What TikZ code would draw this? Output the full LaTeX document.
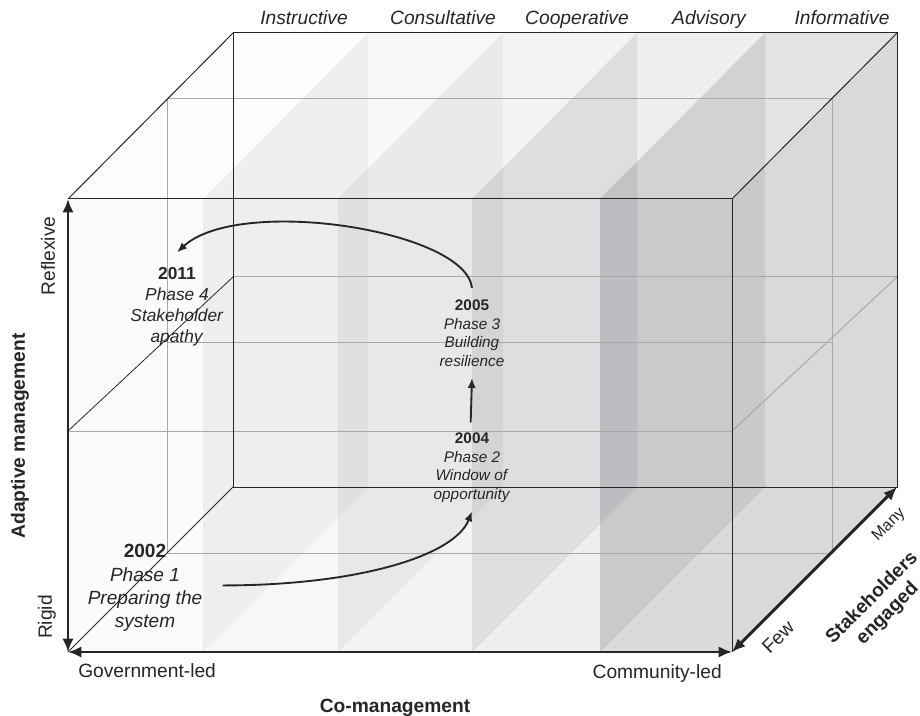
\documentclass[tikz,border=0pt]{standalone}
\usepackage{fontspec}
\setmainfont{Liberation Sans}
\usetikzlibrary{arrows.meta}
\definecolor{slab}{RGB}{25,28,38}
\definecolor{edgegray}{HTML}{262626}
\definecolor{gridgray}{HTML}{A8A8A8}
\tikzset{
  cubeline/.style={draw=edgegray, line width=0.75pt},
  gridline/.style={draw=gridgray, line width=0.75pt},
  axisline/.style={draw=edgegray, line width=2.2pt, {Latex[length=10pt,width=8.5pt]}-{Latex[length=10pt,width=8.5pt]}},
  flowline/.style={draw=edgegray, line width=1.4pt, -{Latex[length=7.5pt,width=6pt]}},
  coltitle/.style={anchor=base, inner sep=0pt, font=\fontsize{14.4}{17}\selectfont\itshape, text=edgegray},
  axislabel/.style={inner sep=0pt, font=\fontsize{14.4}{17}\selectfont, text=edgegray},
  axistitle/.style={inner sep=0pt, font=\fontsize{14.4}{17}\selectfont\bfseries, text=edgegray},
  phase/.style={anchor=north, inner sep=0pt, align=center, text=edgegray},
}
\begin{document}
\begin{tikzpicture}[x=0.75pt,y=0.75pt,yscale=-1,xscale=1]
	\useasboundingbox (0,0) rectangle (920,716);

	% Shaded columns: front, top and side faces
	\foreach \xa/\xb/\opf/\opt/\ops in {68/203/0.02/0.012/0.04, 203/338/0.035/0.03/0.05, 338/472/0.055/0.047/0.08, 472/600/0.07/0.07/0.085, 600/732/0.155/0.125/0.17}{
		\fill[slab, fill opacity=\opf] (\xa,199) rectangle (\xb,652);
		\fill[slab, fill opacity=\opt] (\xa,199) -- (\xb,199) -- ++(165,-166) -- ++(\xa-\xb,0) -- cycle;
		\fill[slab, fill opacity=\ops] (\xb,199) -- ++(165,-166) -- ++(0,454) -- (\xb,652) -- cycle;
	}

	% Grid lines
	\draw[gridline] (68,431) -- (732,431);
	\draw[gridline] (233,277) -- (897,277);
	\draw[gridline] (167,342) -- (832,342);
	\draw[gridline] (167,99) rectangle (832,553);
	\draw[gridline] (732,431) -- (897,277);

	% Cube edges
	\draw[cubeline] (68,199) -- (732,199) -- (732,652);
	\draw[cubeline] (233,33) rectangle (897,487);
	\draw[cubeline] (68,199) -- (233,33);
	\draw[cubeline] (732,199) -- (897,33);
	\draw[cubeline] (68,652) -- (233,487);
	\draw[cubeline, line width=0.6pt] (68,431) -- (233,277);

	% Axes
	\draw[axisline] (68,652) -- (68,199);
	\draw[axisline] (68,652) -- (732,652);
	\draw[axisline] (732,652) -- (897,487);

	% Text Node
	\node[coltitle] (instructive) at (304,25) {Instructive};
	\node[coltitle] (consultative) at (443,25) {Consultative};
	\node[coltitle] (cooperative) at (577,25) {Cooperative};
	\node[coltitle] (advisory) at (709,25) {Advisory};
	\node[coltitle] (informative) at (842,25) {Informative};
	% Text Node
	\node[axislabel, rotate=90] (reflexive) at (48,256) {Reflexive};
	\node[axislabel, rotate=90] (rigid) at (47,617) {Rigid};
	\node[axistitle, rotate=90] (adaptive) at (20,436) {Adaptive management};
	% Text Node
	\node[axislabel, anchor=base west] (govled) at (78,677) {Government-led};
	\node[axislabel, anchor=base east] (comled) at (722,678) {Community-led};
	\node[axistitle, anchor=base] (comanage) at (395,712) {Co-management};
	% Text Node
	\node[axislabel, rotate=45] (few) at (778,637) {Few};
	\node[axislabel, rotate=45, font=\fontsize{12}{14}\selectfont] (many) at (889,525) {Many};
	\node[axistitle, rotate=45, align=center, font=\fontsize{14.4}{16.5}\selectfont\bfseries] (engaged) at (880,606) {Stakeholders\\engaged};

	% Text Node
	\node[phase, font=\fontsize{14.3}{17.6}\selectfont] (ph1) at (145,544) {\textbf{2002}\\\textit{Phase 1}\\\textit{Preparing the}\\\textit{system}};
	% Text Node
	\node[phase, font=\fontsize{11.5}{13.8}\selectfont] (ph2) at (472,433) {\textbf{2004}\\\textit{Phase 2}\\\textit{Window of}\\\textit{opportunity}};
	% Text Node
	\node[phase, font=\fontsize{11.5}{13.8}\selectfont] (ph3) at (472,300) {\textbf{2005}\\\textit{Phase 3}\\\textit{Building}\\\textit{resilience}};
	% Text Node
	\node[phase, font=\fontsize{13}{15.75}\selectfont] (ph4) at (177,267) {\textbf{2011}\\\textit{Phase 4}\\\textit{Stakeholder}\\\textit{apathy}};

	% Connection
	\draw[flowline] ([xshift=15pt,yshift=-2pt]ph1.east) .. controls +(137,0) and +(-17,44) .. ([yshift=6.5pt]ph2.south);
	% Connection
	\draw[flowline] ([xshift=-1pt,yshift=-8pt]ph2.north) -- ([yshift=8.5pt]ph3.south);
	% Connection
	\draw[flowline] ([yshift=-9pt]ph3.north) .. controls +(-6,-58) and +(62,-57) .. ([yshift=-11pt]ph4.north);

\end{tikzpicture}
\end{document}
